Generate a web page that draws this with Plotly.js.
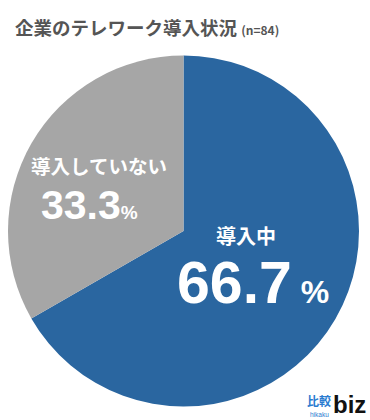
<!DOCTYPE html>
<html><head><meta charset="utf-8">
<script src="https://cdn.plot.ly/plotly-3.0.1.min.js"></script>
<style>html,body{margin:0;padding:0;background:#fff;}#chart{width:370px;height:420px;}</style>
</head><body><div id="chart"></div>
<script>
const categories = ["導入中", "導入していない"];
const values = [66.7, 33.3];
const colors = ["#2a66a0", "#a6a6a6"];
const titleText = "企業のテレワーク導入状況";
const nText = "(n=84)";

const jp = '"Noto Sans CJK JP", "Noto Sans", sans-serif';
const num = '"Liberation Sans", Arial, sans-serif';

const data = [{
  type: "pie",
  labels: categories,
  values: values,
  sort: false,
  direction: "clockwise",
  rotation: 0,
  marker: {colors: colors, line: {width: 0}},
  textinfo: "none",
  hoverinfo: "none",
  showlegend: false,
  domain: {x: [8/370, 359/370], y: [13/420, 365/420]}
}];

function fmt(v){ return v.toFixed(1); }

const annotations = [
  {x: 13/370, y: 1-27/420, xanchor: "left", yanchor: "middle",
   text: "<b>" + titleText + "</b> <span style='font-size:12px'><b>" + nText + "</b></span>",
   font: {family: jp, size: 18.5, color: "#555555"}, showarrow: false},
  // blue labels
  {x: 246/370, y: 1-235/420, xanchor: "center", yanchor: "middle",
   text: "<b>" + categories[0] + "</b>", font: {family: jp, size: 20, color: "#ffffff"}, showarrow: false},
  {x: 253/370, y: 1-283/420, xanchor: "center", yanchor: "middle",
   text: "<b>" + fmt(values[0]) + "<span style='font-size:32px'> %</span></b>",
   font: {family: num, size: 59, color: "#ffffff"}, showarrow: false},
  // gray labels
  {x: 99/370, y: 1-166/420, xanchor: "center", yanchor: "middle",
   text: "<b>" + categories[1] + "</b>", font: {family: jp, size: 19.5, color: "#ffffff"}, showarrow: false},
  {x: 89/370, y: 1-205/420, xanchor: "center", yanchor: "middle",
   text: "<b>" + fmt(values[1]) + "<span style='font-size:19px'>%</span></b>",
   font: {family: num, size: 41, color: "#ffffff"}, showarrow: false},
  // logo
  {x: 319/370, y: 1-400/420, xanchor: "center", yanchor: "middle",
   text: "<b>比較</b>", font: {family: jp, size: 12, color: "#2a7bd0"}, showarrow: false},
  {x: 319/370, y: 1-414/420, xanchor: "center", yanchor: "middle",
   text: "hikaku", font: {family: num, size: 6.5, color: "#2a7bd0"}, showarrow: false},
  {x: 331/370, y: 1-404/420, xanchor: "left", yanchor: "middle",
   text: "<b>biz</b>", font: {family: num, size: 24, color: "#111111"}, showarrow: false}
];

const layout = {
  width: 370, height: 420,
  margin: {l: 0, r: 0, t: 0, b: 0},
  paper_bgcolor: "#ffffff",
  plot_bgcolor: "#ffffff",
  showlegend: false,
  annotations: annotations
};

Plotly.newPlot("chart", data, layout, {displayModeBar: false, staticPlot: true});
</script></body></html>
